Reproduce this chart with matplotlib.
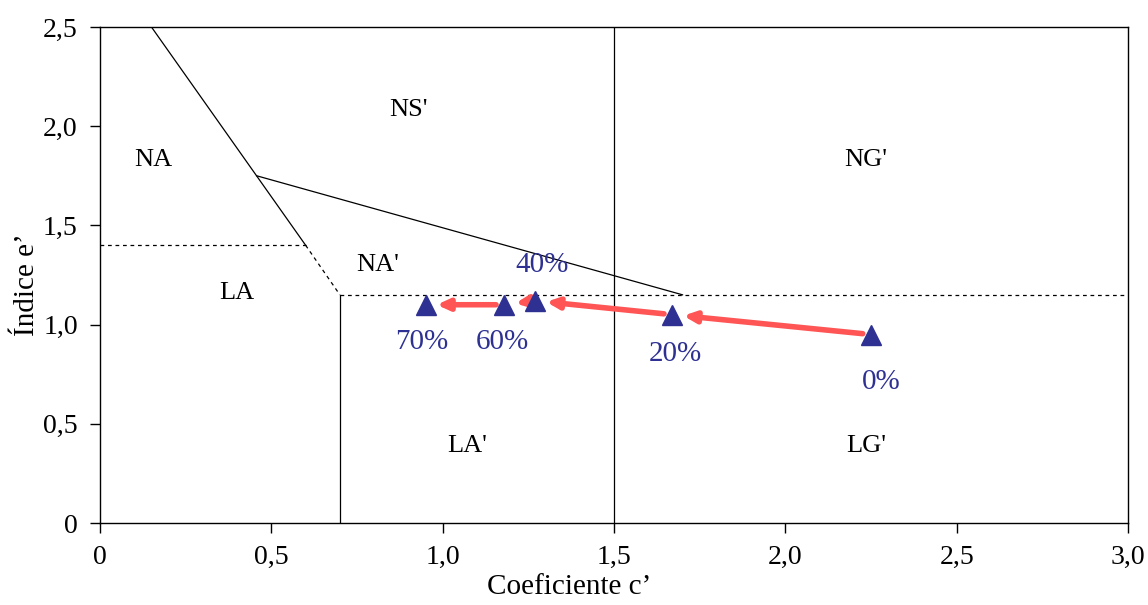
import matplotlib
matplotlib.use("Agg")
import matplotlib.pyplot as plt

plt.rcParams['font.family'] = ['Liberation Serif', 'DejaVu Serif']

# Data
labels = ['0%', '20%', '40%', '60%', '70%']
c_vals = [2.25, 1.67, 1.27, 1.18, 0.95]
e_vals = [0.95, 1.05, 1.12, 1.10, 1.10]
label_pos = [(2.28, 0.71), (1.68, 0.85), (1.29, 1.30), (1.175, 0.91), (0.94, 0.91)]

regions = ['NA', "NS'", "NG'", "NA'", 'LA', "LA'", "LG'"]
region_pos = [(0.155, 1.83), (0.90, 2.08), (2.235, 1.83), (0.81, 1.30),
              (0.40, 1.16), (1.07, 0.39), (2.235, 0.39)]

x_ticks = [0, 0.5, 1.0, 1.5, 2.0, 2.5, 3.0]
x_ticklabels = ['0', '0,5', '1,0', '1,5', '2,0', '2,5', '3,0']
y_ticks = [0, 0.5, 1.0, 1.5, 2.0, 2.5]
y_ticklabels = ['0', '0,5', '1,0', '1,5', '2,0', '2,5']

fig = plt.figure(figsize=(11.48, 6.05), dpi=100)
ax = fig.add_axes([0.0871, 0.1355, 0.8955, 0.82])
ax.set_xlim(0, 3.0)
ax.set_ylim(0, 2.5)

lk = dict(color='black', lw=0.9)
dash = (0, (3, 3))
# boundary lines
ax.plot([0.15, 0.6], [2.5, 1.4], **lk)
ax.plot([0.6, 0.7], [1.4, 1.15], color='black', lw=0.9, ls=dash)
ax.plot([0.457, 1.7], [1.75, 1.15], **lk)
ax.plot([0.7, 0.7], [0, 1.15], **lk)
ax.plot([1.5, 1.5], [0, 2.5], **lk)
ax.plot([0, 0.6], [1.4, 1.4], color='black', lw=0.9, ls=dash)
ax.plot([0.7, 3.0], [1.15, 1.15], color='black', lw=0.9, ls=dash)

# arrows
for i in range(len(c_vals) - 1):
    ax.annotate('', xy=(c_vals[i + 1], e_vals[i + 1]), xytext=(c_vals[i], e_vals[i]),
                arrowprops=dict(arrowstyle='-|>,head_length=0.7,head_width=0.32',
                                color='#FF5555', lw=4, shrinkA=6, shrinkB=8),
                zorder=3)

ax.plot(c_vals, e_vals, ls='none', marker='^', ms=14, color='#2E3192', zorder=4)

for lab, (x, y) in zip(labels, label_pos):
    ax.text(x, y, lab, fontsize=21, color='#2E3192', ha='center', va='center')

for lab, (x, y) in zip(regions, region_pos):
    ax.text(x, y, lab, fontsize=19, color='black', ha='center', va='center')

ax.set_xticks(x_ticks)
ax.set_xticklabels(x_ticklabels)
ax.set_yticks(y_ticks)
ax.set_yticklabels(y_ticklabels)
ax.tick_params(direction='out', length=7, width=1, labelsize=20, pad=9)
for s in ax.spines.values():
    s.set_linewidth(1)

ax.set_xlabel('Coeficiente c\u2019', fontsize=21)
ax.xaxis.set_label_coords(0.456, -0.103)
ax.set_ylabel('\u00cdndice e\u2019', fontsize=21)
ax.yaxis.set_label_coords(-0.058, 0.48)

fig.savefig('out.png', dpi=100)
